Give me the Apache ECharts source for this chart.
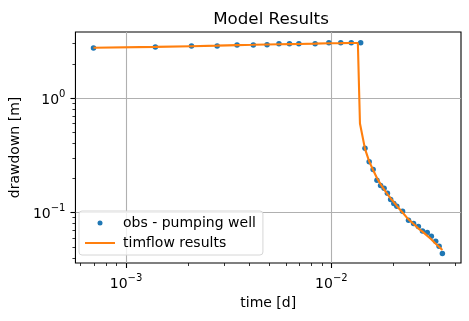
<!DOCTYPE html>
<html><head><meta charset="utf-8">
<script src="https://cdn.jsdelivr.net/npm/echarts@6/dist/echarts.min.js"></script>
<style>html,body{margin:0;padding:0;background:#fff}#c{width:469px;height:321px}</style>
</head><body><div id="c"></div>
<script>
// observed drawdown (time in days, drawdown in m)
var obsTime = [0.000694, 0.001389, 0.002083, 0.002778, 0.003472, 0.004167, 0.004861, 0.005556, 0.00625, 0.006944,
  0.008333, 0.009722, 0.01111, 0.0125, 0.01389,
  0.01458, 0.01528, 0.01597, 0.01667, 0.01736, 0.01806, 0.01875, 0.01944, 0.02014, 0.02083,
  0.02222, 0.02375, 0.02514, 0.02653, 0.02778, 0.02931, 0.03069, 0.03222, 0.03347, 0.03472];
var obsDrawdown = [2.745, 2.80, 2.86, 2.86, 2.92, 2.92, 2.935, 2.99, 2.99, 2.99,
  2.99, 3.06, 3.06, 3.06, 3.06,
  0.364, 0.278, 0.238, 0.191, 0.1725, 0.1625, 0.147, 0.130, 0.120, 0.1135,
  0.1026, 0.0855, 0.0801, 0.0754, 0.069, 0.0668, 0.062, 0.056, 0.0506, 0.0437];
// model results
var modelTime = [0.000694, 0.001389, 0.002083, 0.002778, 0.003472, 0.004167, 0.004861, 0.005556, 0.00625, 0.006944,
  0.008333, 0.009722, 0.01111, 0.0125, 0.01346, 0.01378,
  0.01458, 0.01528, 0.01597, 0.01667, 0.01736, 0.01806, 0.01875, 0.01944, 0.02014, 0.02083,
  0.02222, 0.02361, 0.025, 0.02639, 0.02778, 0.02917, 0.03056, 0.03194, 0.03333, 0.03472];
var modelDrawdown = [2.76, 2.81, 2.85, 2.88, 2.91, 2.93, 2.95, 2.96, 2.97, 2.98,
  3.00, 3.02, 3.03, 3.04, 3.04, 0.60,
  0.36, 0.28, 0.235, 0.20, 0.177, 0.159, 0.145, 0.133, 0.123, 0.114,
  0.100, 0.088, 0.080, 0.073, 0.068, 0.063, 0.0585, 0.054, 0.0505, 0.047];
// ticks
var xMajorTicks = [0.001, 0.01];
var xMinorTicks = [0.0006, 0.0007, 0.0008, 0.0009, 0.002, 0.003, 0.004, 0.005, 0.006, 0.007, 0.008, 0.009, 0.02, 0.03, 0.04];
var yMajorTicks = [0.1, 1];
var yMinorTicks = [0.04, 0.05, 0.06, 0.07, 0.08, 0.09, 0.2, 0.3, 0.4, 0.5, 0.6, 0.7, 0.8, 0.9, 2, 3];

var FONT = 'DejaVu Sans';
function pow10Label(v) {
  var e = Math.round(Math.log10(v));
  var s = (e < 0 ? '\u2212' + (-e) : '' + e);
  return '{b|10}{s|' + s + '}';
}
var rich = {
  b: {fontSize: 14, fontFamily: FONT, color: '#000', verticalAlign: 'bottom', lineHeight: 18},
  s: {fontSize: 10, fontFamily: FONT, color: '#000', verticalAlign: 'top', lineHeight: 18}
};
var xMin = 5.67e-4, xMax = 0.04279, yMin = 0.03613, yMax = 3.793;

var chart = echarts.init(document.getElementById('c'), null, {renderer: 'canvas'});
chart.setOption({
  animation: false,
  backgroundColor: '#fff',
  title: {text: 'Model Results', left: 266, textAlign: 'center', top: 6,
    textStyle: {fontFamily: FONT, fontSize: 16.7, fontWeight: 'normal', color: '#000'}},
  grid: {left: 72, top: 32, width: 389, height: 231, show: true, borderColor: '#000', borderWidth: 1.1, backgroundColor: 'transparent', containLabel: false},
  legend: {
    orient: 'vertical', left: 79, top: 211, selectedMode: false,
    backgroundColor: 'rgba(255,255,255,0.8)', borderColor: '#d6d6d6', borderWidth: 1, borderRadius: 3,
    padding: [5, 7, 5, 5], itemGap: 6, itemWidth: 30, itemHeight: 5,
    textStyle: {fontFamily: FONT, fontSize: 14, color: '#000', lineHeight: 14, padding: [0, 0, 0, 3]},
    data: [
      {name: 'obs - pumping well'},
      {name: 'timflow results', itemStyle: {opacity: 0}}
    ]
  },
  xAxis: [{
    type: 'log', logBase: 10, min: xMin, max: xMax, gridIndex: 0,
    name: 'time [d]', nameLocation: 'middle', nameGap: 33,
    nameTextStyle: {fontFamily: FONT, fontSize: 14, color: '#000'},
    axisLine: {show: false},
    axisTick: {show: true, length: 5, lineStyle: {color: '#000', width: 1.1}, customValues: xMajorTicks},
    axisLabel: {margin: 10, customValues: xMajorTicks, formatter: pow10Label, rich: rich},
    splitLine: {show: true, lineStyle: {color: '#b0b0b0', width: 1.1}},
    minorTick: {show: false}
  }, {
    type: 'log', logBase: 10, min: xMin, max: xMax, gridIndex: 0, position: 'bottom',
    axisLine: {show: false},
    axisTick: {show: true, length: 3, lineStyle: {color: '#000', width: 0.8}, customValues: xMinorTicks},
    axisLabel: {show: false},
    splitLine: {show: false}
  }],
  yAxis: [{
    type: 'log', logBase: 10, min: yMin, max: yMax, gridIndex: 0,
    name: 'drawdown [m]', nameLocation: 'middle', nameGap: 48,
    nameTextStyle: {fontFamily: FONT, fontSize: 14, color: '#000'},
    axisLine: {show: false},
    axisTick: {show: true, length: 5, lineStyle: {color: '#000', width: 1.1}, customValues: yMajorTicks},
    axisLabel: {margin: 10, customValues: yMajorTicks, formatter: pow10Label, rich: rich},
    splitLine: {show: true, lineStyle: {color: '#b0b0b0', width: 1.1}}
  }, {
    type: 'log', logBase: 10, min: yMin, max: yMax, gridIndex: 0, position: 'left',
    axisLine: {show: false},
    axisTick: {show: true, length: 3, lineStyle: {color: '#000', width: 0.8}, customValues: yMinorTicks},
    axisLabel: {show: false},
    splitLine: {show: false}
  }],
  series: [{
    name: 'obs - pumping well', type: 'scatter', xAxisIndex: 0, yAxisIndex: 0,
    symbol: 'circle', symbolSize: 5.5, itemStyle: {color: '#1f77b4', opacity: 1},
    data: obsTime.map(function (t, i) { return [t, obsDrawdown[i]]; })
  }, {
    name: 'timflow results', type: 'line', xAxisIndex: 0, yAxisIndex: 0,
    symbol: 'none', lineStyle: {color: '#ff7f0e', width: 2.1}, itemStyle: {color: '#ff7f0e'},
    data: modelTime.map(function (t, i) { return [t, modelDrawdown[i]]; })
  }]
});
</script></body></html>
